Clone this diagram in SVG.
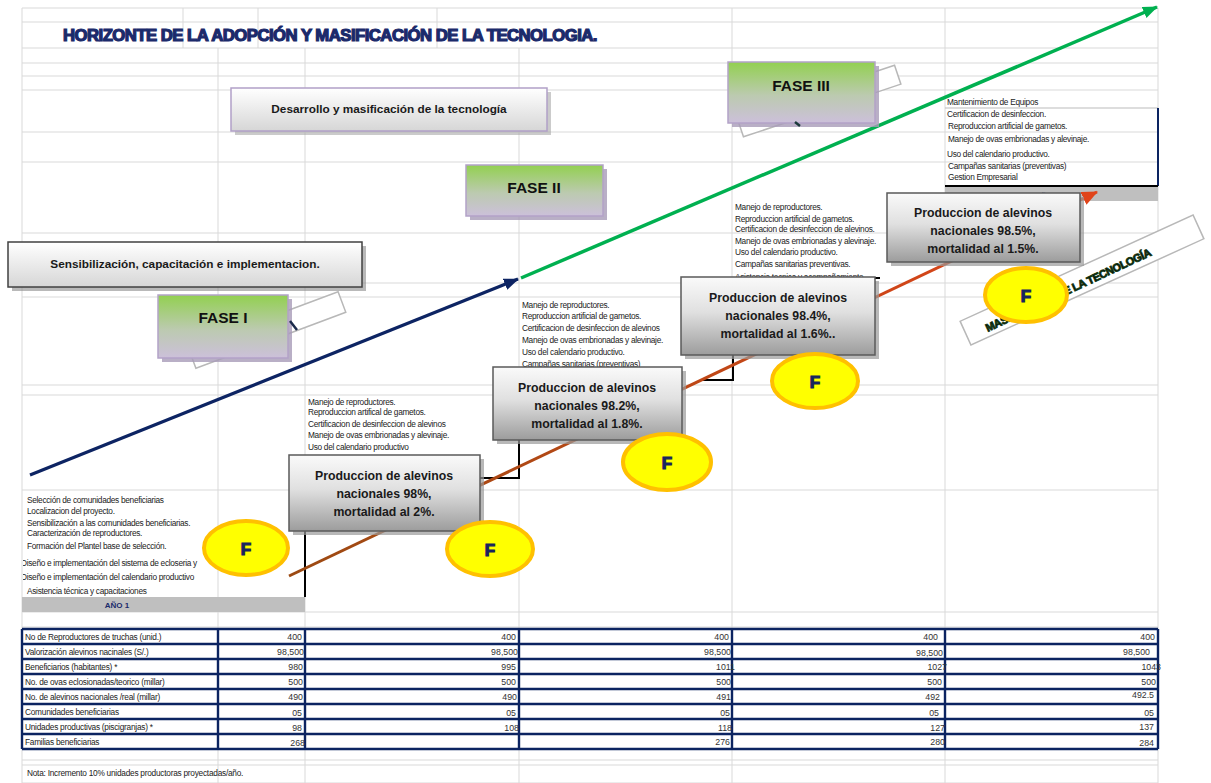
<svg xmlns="http://www.w3.org/2000/svg" width="1211" height="783" viewBox="0 0 1211 783">
<defs>
<style>
.grid{stroke:#d9d9d9;stroke-width:1;fill:none}
.lst{font-family:"Liberation Sans",Arial,sans-serif;font-size:8.3px;fill:#222;letter-spacing:-0.3px}
.tl{font-family:"Liberation Sans",Arial,sans-serif;font-size:8.3px;fill:#222;letter-spacing:-0.25px}
.tv{font-family:"Liberation Sans",Arial,sans-serif;font-size:8.8px;fill:#333;text-anchor:end}
.tb{stroke:#0c2461;stroke-width:2.4;fill:none}
.pbox{fill:url(#gGray);stroke:#5a5a5a;stroke-width:1.5}
.shadow{fill:#9a9a9a;opacity:0.7}
.pt{font-family:"Liberation Sans",Arial,sans-serif;font-size:12.3px;font-weight:bold;fill:#1a1a1a;text-anchor:middle}
.fase{fill:url(#gFase);stroke:#b3a2c7;stroke-width:1.5}
.fshadow{fill:#a89bb8;opacity:0.8}
.ft{font-family:"Liberation Sans",Arial,sans-serif;font-size:15.5px;font-weight:bold;fill:#111;text-anchor:middle}
.fc{fill:#ffff00;stroke:#ffc000;stroke-width:4}
.fl{font-family:"Liberation Sans",Arial,sans-serif;font-size:17px;font-weight:bold;fill:#17255e;stroke:#17255e;stroke-width:1.2;text-anchor:middle}
.rot{fill:#fff;stroke:#b8b8b8;stroke-width:1.5}
.step{stroke:#000;stroke-width:2;fill:none}
</style>
<linearGradient id="gGray" x1="0" y1="0" x2="0" y2="1"><stop offset="0" stop-color="#fafafa"/><stop offset="0.45" stop-color="#e0e0e0"/><stop offset="1" stop-color="#9c9c9c"/></linearGradient>
<linearGradient id="gLight" x1="0" y1="0" x2="0" y2="1"><stop offset="0" stop-color="#ffffff"/><stop offset="1" stop-color="#d6d6d6"/></linearGradient>
<linearGradient id="gFase" x1="0" y1="0" x2="0" y2="1"><stop offset="0" stop-color="#92d050"/><stop offset="0.55" stop-color="#bccab0"/><stop offset="1" stop-color="#ccc0da"/></linearGradient>
<linearGradient id="gBrown" gradientUnits="userSpaceOnUse" x1="289" y1="576" x2="1097" y2="192"><stop offset="0" stop-color="#9c4a12"/><stop offset="1" stop-color="#e0441a"/></linearGradient>
<marker id="mNavy" markerUnits="userSpaceOnUse" markerWidth="16" markerHeight="12" refX="14" refY="6" orient="auto"><path d="M0,0 L15,6 L0,12 z" fill="#0d2463"/></marker>
<marker id="mGreen" markerUnits="userSpaceOnUse" markerWidth="16" markerHeight="12" refX="14" refY="6" orient="auto"><path d="M0,0 L15,6 L0,12 z" fill="#00b050"/></marker>
<marker id="mOrange" markerUnits="userSpaceOnUse" markerWidth="17" markerHeight="14" refX="15" refY="7" orient="auto"><path d="M0,0 L16,7 L0,14 z" fill="#e0441a"/></marker>
<clipPath id="clipL"><rect x="23" y="0" width="400" height="783"/></clipPath>
</defs>
<rect width="1211" height="783" fill="#fff"/>

<g id="gridlines">
<path class="grid" d="M22,8V783 M218,48V783 M305,48V783 M519,48V783 M732,48V783 M945,8V783 M1158,8V783 M183,8V48 M258,8V48 M437,8V48 M732,8V48"/>
<path class="grid" d="M22,8H1158 M22,22H1158 M22,48H1158 M22,63H1158 M22,76H1158 M22,90H1158 M22,132H1158 M22,162H1158 M22,233H1158 M22,283H1158 M22,297H1158 M22,385H1158 M22,395H1158 M22,490H1158 M22,612H1158 M22,627H1158 M22,760H1158 M22,765H1158 M22,783H1158"/>
</g>

<g id="title">
<text x="63" y="41" textLength="534" lengthAdjust="spacingAndGlyphs" font-family="Liberation Sans,Arial,sans-serif" font-size="16" font-weight="bold" fill="#1b2a6b" stroke="#1b2a6b" stroke-width="1.2" letter-spacing="-0.5">HORIZONTE DE LA ADOPCIÓN Y MASIFICACIÓN DE LA TECNOLOGIA.</text>
</g>

<g id="year-bands">
<rect x="22" y="597" width="283" height="15" fill="#bfbfbf"/>
<text x="117" y="608" font-family="Liberation Sans,Arial,sans-serif" font-size="8" font-weight="bold" fill="#1b2a6b" text-anchor="middle">AÑO 1</text>
<rect x="945" y="186" width="213" height="15" fill="#bfbfbf"/>
<text x="1047" y="199" font-family="Liberation Sans,Arial,sans-serif" font-size="8" font-weight="bold" fill="#1b2a6b" text-anchor="middle">AÑO 5</text>
</g>

<g id="list-year1" clip-path="url(#clipL)">
<text class="lst" x="27" y="503">Selección de comunidades beneficiarias</text>
<text class="lst" x="27" y="514">Localizacion del proyecto.</text>
<text class="lst" x="27" y="526">Sensibilización a las comunidades beneficiarias.</text>
<text class="lst" x="27" y="536">Caracterización de reproductores.</text>
<text class="lst" x="27" y="549">Formación del Plantel base de selección.</text>
<text class="lst" x="21" y="566">Diseño e implementación del sistema de ecloseria y</text>
<text class="lst" x="21" y="580">Diseño e implementación del calendario productivo</text>
<text class="lst" x="27" y="594">Asistencia técnica y capacitaciones</text>
</g>

<g id="list-year2">
<text class="lst" x="308" y="405">Manejo de reproductores.</text>
<text class="lst" x="308" y="415">Reproduccion artifical de gametos.</text>
<text class="lst" x="308" y="427">Certificacion de desinfeccion de alevinos</text>
<text class="lst" x="308" y="438">Manejo de ovas embrionadas y alevinaje.</text>
<text class="lst" x="308" y="450">Uso del calendario productivo</text>
</g>

<g id="list-year3">
<text class="lst" x="522" y="308">Manejo de reproductores.</text>
<text class="lst" x="522" y="319">Reproduccion artificial de gametos.</text>
<text class="lst" x="522" y="331">Certificacion de desinfeccion de alevinos</text>
<text class="lst" x="522" y="343">Manejo de ovas embrionadas y alevinaje.</text>
<text class="lst" x="522" y="355">Uso del calendario productivo.</text>
<text class="lst" x="522" y="367">Campañas sanitarias (preventivas)</text>
</g>

<g id="list-year4">
<text class="lst" x="735" y="210">Manejo de reproductores.</text>
<text class="lst" x="735" y="222">Reproduccion artificial de gametos.</text>
<text class="lst" x="735" y="232">Certificacion de desinfeccion de alevinos.</text>
<text class="lst" x="735" y="244">Manejo de ovas embrionadas y alevinaje.</text>
<text class="lst" x="735" y="255">Uso del calendario productivo.</text>
<text class="lst" x="735" y="267">Campañas sanitarias preventivas.</text>
<text class="lst" x="735" y="280">Asistencia tecnica y acompañamiento</text>
</g>

<g id="list-year5">
<path d="M945,108H1158" stroke="#bbb" stroke-width="1"/>
<text class="lst" x="947" y="105">Mantenimiento de Equipos</text>
<text class="lst" x="947" y="117">Certificacion de desinfeccion.</text>
<text class="lst" x="948" y="129">Reproduccion artificial de gametos.</text>
<text class="lst" x="948" y="142">Manejo de ovas embrionadas y alevinaje.</text>
<text class="lst" x="947" y="157">Uso del calendario productivo.</text>
<text class="lst" x="948" y="169">Campañas sanitarias (preventivas)</text>
<text class="lst" x="948" y="180">Gestion Empresarial</text>
<path d="M1158,108V186" stroke="#0c2461" stroke-width="2"/>
<path d="M945,186H1158" stroke="#000" stroke-width="2"/>
</g>

<g id="connectors">
<path class="step" d="M305,530V597"/>
<path class="step" d="M470,478H519V440"/>
<path class="step" d="M733,355V380H700"/>
<path class="step" d="M862,278H880"/>
<line x1="30" y1="475" x2="518" y2="279" stroke="#0d2463" stroke-width="3.2" marker-end="url(#mNavy)"/>
<line x1="521" y1="278" x2="1157" y2="7" stroke="#00b050" stroke-width="3.5" marker-end="url(#mGreen)"/>
<line x1="289" y1="576" x2="1097" y2="192" stroke="url(#gBrown)" stroke-width="3" marker-end="url(#mOrange)"/>
</g>

<g id="banner">
<rect class="rot" x="-128" y="-13" width="256" height="26" transform="translate(1082,280) rotate(-24.5)"/>
<text x="0" y="4" transform="translate(1068,290) rotate(-25)" font-family="Liberation Sans,Arial,sans-serif" font-size="11" font-weight="bold" fill="#000" stroke="#143a14" stroke-width="0.9" letter-spacing="-0.4" text-anchor="middle">MASIFICACIÓN DE LA TECNOLOGÍA</text>
</g>

<g id="fase1">
<rect class="rot" x="-80" y="-11" width="160" height="22" transform="translate(267,330) rotate(-20.5)"/>
<rect class="fshadow" x="162" y="299" width="130" height="63"/>
<rect class="fase" x="158" y="295" width="130" height="63"/>
<path d="M290,321L297,330" stroke="#1b2a4b" stroke-width="2.5"/>
<text class="ft" x="223" y="323">FASE I</text>
</g>

<g id="fase2">
<rect class="fshadow" x="470" y="169" width="137" height="51"/>
<rect class="fase" x="466" y="165" width="137" height="51"/>
<text class="ft" x="534" y="193">FASE II</text>
</g>

<g id="fase3">
<rect class="rot" x="-83" y="-10" width="166" height="20" transform="translate(819,101) rotate(-18.5)"/>
<rect class="fshadow" x="732" y="66" width="147" height="61"/>
<rect class="fase" x="728" y="62" width="147" height="61"/>
<path d="M795,122L800,126" stroke="#1b3a3b" stroke-width="2.5"/>
<text class="ft" x="801" y="91">FASE III</text>
</g>

<g id="desarrollo">
<rect x="235" y="92" width="316" height="43" fill="#a8a8a8" opacity="0.6"/>
<rect x="231" y="88" width="316" height="43" fill="url(#gLight)" stroke="#b1a0c7" stroke-width="1.5"/>
<text x="389" y="113" font-family="Liberation Sans,Arial,sans-serif" font-size="11.8" font-weight="bold" fill="#1a1a1a" text-anchor="middle">Desarrollo y masificación de la tecnología</text>
</g>

<g id="sensibilizacion">
<rect x="12" y="246" width="354" height="45" fill="#8a8a8a" opacity="0.6"/>
<rect x="8" y="242" width="354" height="45" fill="url(#gLight)" stroke="#404040" stroke-width="1.5"/>
<text x="185" y="268" font-family="Liberation Sans,Arial,sans-serif" font-size="11.8" font-weight="bold" fill="#1a1a1a" text-anchor="middle">Sensibilización, capacitación e implementacion.</text>
</g>

<g id="prod1">
<rect class="shadow" x="293" y="459" width="191" height="76"/>
<rect class="pbox" x="289" y="455" width="191" height="76"/>
<text class="pt" x="384" y="480">Produccion de alevinos</text>
<text class="pt" x="384" y="498">nacionales 98%,</text>
<text class="pt" x="384" y="516">mortalidad al 2%.</text>
</g>

<g id="prod2">
<rect class="shadow" x="497" y="371" width="189" height="73"/>
<rect class="pbox" x="493" y="367" width="189" height="73"/>
<text class="pt" x="587" y="392">Produccion de alevinos</text>
<text class="pt" x="587" y="410">nacionales 98.2%,</text>
<text class="pt" x="587" y="428">mortalidad al 1.8%.</text>
</g>

<g id="prod3">
<rect class="shadow" x="685" y="281" width="194" height="78"/>
<rect class="pbox" x="681" y="277" width="194" height="78"/>
<text class="pt" x="778" y="302">Produccion de alevinos</text>
<text class="pt" x="778" y="320">nacionales 98.4%,</text>
<text class="pt" x="778" y="338">mortalidad al 1.6%..</text>
</g>

<g id="prod4">
<rect class="shadow" x="891" y="197" width="193" height="69"/>
<rect class="pbox" x="887" y="193" width="193" height="69"/>
<text class="pt" x="983" y="217">Produccion de alevinos</text>
<text class="pt" x="983" y="235">nacionales 98.5%,</text>
<text class="pt" x="983" y="253">mortalidad al 1.5%.</text>
</g>

<g id="f1"><ellipse class="fc" cx="246" cy="548" rx="42" ry="27"/><text class="fl" x="246" y="555">F</text></g>
<g id="f2"><ellipse class="fc" cx="490" cy="549" rx="43" ry="27"/><text class="fl" x="490" y="556">F</text></g>
<g id="f3"><ellipse class="fc" cx="667" cy="462" rx="44" ry="28"/><text class="fl" x="667" y="469">F</text></g>
<g id="f4"><ellipse class="fc" cx="815" cy="381" rx="43" ry="27"/><text class="fl" x="815" y="388">F</text></g>
<g id="f5"><ellipse class="fc" cx="1026" cy="295" rx="41" ry="27"/><text class="fl" x="1026" y="302">F</text></g>

<g id="table">
<path class="tb" d="M22,629H1158 M22,644H1158 M22,659H1158 M22,674H1158 M22,689H1158 M22,704H1158 M22,719H1158 M22,734H1158 M22,749H1158 M22,629V749 M218,629V749 M305,629V749 M519,629V749 M732,629V749 M945,629V749 M1158,629V749"/>
<text class="tl" x="25" y="640">No de Reproductores de truchas  (unid.)</text>
<text class="tl" x="25" y="655">Valorización  alevinos nacinales (S/.)</text>
<text class="tl" x="25" y="670">Beneficiarios (habitantes) *</text>
<text class="tl" x="25" y="685">No. de  ovas eclosionadas/teorico (millar)</text>
<text class="tl" x="25" y="700">No. de alevinos nacionales /real  (millar)</text>
<text class="tl" x="25" y="715">Comunidades beneficiarias</text>
<text class="tl" x="25" y="730">Unidades productivas (piscigranjas) *</text>
<text class="tl" x="25" y="745">Familias beneficiarias</text>
<text class="tv" x="302" y="640">400</text><text class="tv" x="516" y="640">400</text><text class="tv" x="729" y="640">400</text><text class="tv" x="938" y="640">400</text><text class="tv" x="1155" y="640">400</text>
<text class="tv" x="304" y="655">98,500</text><text class="tv" x="518" y="655">98,500</text><text class="tv" x="731" y="655">98,500</text><text class="tv" x="943" y="656">98,500</text><text class="tv" x="1150" y="655">98,500</text>
<text class="tv" x="303" y="670">980</text><text class="tv" x="516" y="670">995</text><text class="tv" x="735" y="670">1011</text><text class="tv" x="947" y="670">1027</text><text class="tv" x="1161" y="670">1043</text>
<text class="tv" x="303" y="685">500</text><text class="tv" x="516" y="685">500</text><text class="tv" x="731" y="685">500</text><text class="tv" x="942" y="685">500</text><text class="tv" x="1156" y="685">500</text>
<text class="tv" x="303" y="700">490</text><text class="tv" x="517" y="700">490</text><text class="tv" x="731" y="700">491</text><text class="tv" x="940" y="700">492</text><text class="tv" x="1154" y="698">492.5</text>
<text class="tv" x="302" y="716">05</text><text class="tv" x="516" y="716">05</text><text class="tv" x="730" y="716">05</text><text class="tv" x="939" y="716">05</text><text class="tv" x="1154" y="716">05</text>
<text class="tv" x="302" y="731">98</text><text class="tv" x="519" y="731">108</text><text class="tv" x="732" y="731">118</text><text class="tv" x="945" y="731">127</text><text class="tv" x="1154" y="730">137</text>
<text class="tv" x="305" y="746">268</text><text class="tv" x="730" y="745">276</text><text class="tv" x="945" y="745">280</text><text class="tv" x="1154" y="746">284</text>
<text class="tl" x="27" y="776">Nota: Incremento 10% unidades productoras proyectadas/año.</text>
</g>
</svg>
